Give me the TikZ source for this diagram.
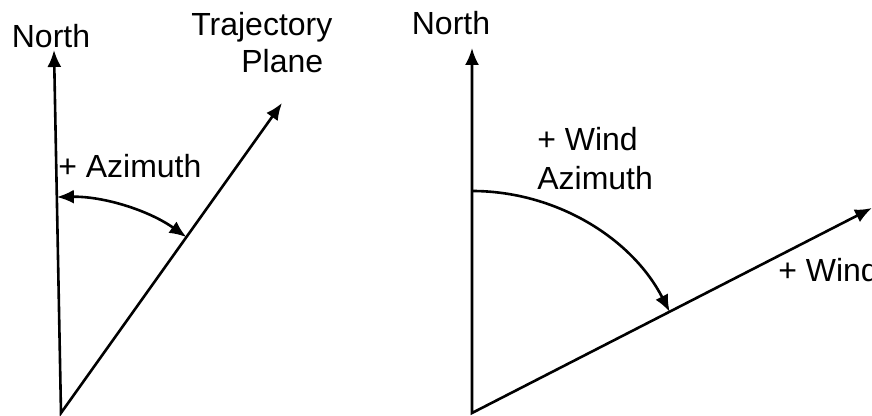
\documentclass[tikz,border=0pt]{standalone}
\usepackage{fontspec}
\setmainfont{Liberation Sans}
\usetikzlibrary{arrows.meta,calc}

\begin{document}
\begin{tikzpicture}[
	x=0.5pt, y=0.5pt,
	line width=1.3pt,
	lbl/.style={inner sep=0pt, anchor=base west, font=\fontsize{16}{18.5}\selectfont},
	>={Latex[length=8.5pt,width=7pt]}
]
	\useasboundingbox (0,0) rectangle (872,416);

	\coordinate (orig1) at (61,3);
	\coordinate (north1) at (54,366);
	\coordinate (traj1) at (282,313);
	\coordinate (orig2) at (472,3);
	\coordinate (north2) at (472,368);
	\coordinate (wind2) at (872,208);

	\node[lbl, anchor=base] (northlbl1) at (51,368) {North};
	\node[lbl] (trajlbl) at (190,380) {Trajectory};
	\node[lbl] (planelbl) at (240,343) {Plane};
	\node[lbl] (azlbl) at (57,238) {+ Azimuth};
	\node[lbl, anchor=base] (northlbl2) at (451,381) {North};
	\node[lbl] (wazlbl1) at (536,265) {+ Wind};
	\node[lbl] (wazlbl2) at (536,226) {Azimuth};
	\node[lbl] (windlbl) at (777,134) {+ Wind};

	\draw[<->] (north1) -- (orig1) -- (traj1);
	\draw[<->] (north2) -- (orig2) -- (wind2);

	\draw[<->] ($(orig1)+(91.1:216)$) arc[start angle=91.1, end angle=54.5, radius=216];
	\draw[->] ($(orig2)+(90:222)$) arc[start angle=90, end angle=27.1, radius=222];
\end{tikzpicture}
\end{document}
